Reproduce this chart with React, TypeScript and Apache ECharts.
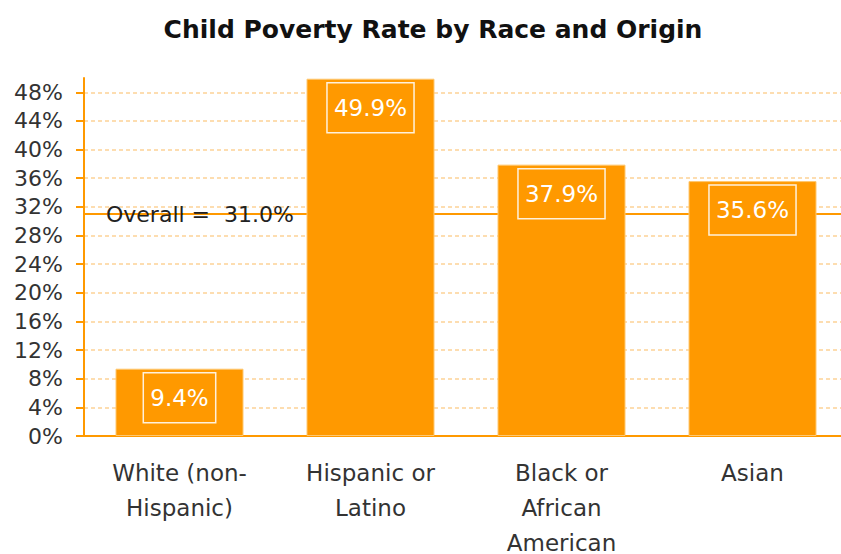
import React, { useEffect, useRef } from "react";
import * as echarts from "echarts";

const categories = ["White (non-\nHispanic)", "Hispanic or\nLatino", "Black or\nAfrican\nAmerican", "Asian"];
const rates = [9.4, 49.9, 37.9, 35.6];
const overallRate = 31.0;
const yTicks = { min: 0, max: 50, interval: 4 };
const titleText = "Child Poverty Rate by Race and Origin";

const ORANGE = "#FF9900";

export default function App() {
  const ref = useRef<HTMLDivElement>(null);
  useEffect(() => {
    if (!ref.current) return;
    const chart = echarts.init(ref.current, undefined, { renderer: "svg" });
    chart.setOption({
      animation: false,
      backgroundColor: "#ffffff",
      title: {
        text: titleText,
        left: 428,
        top: 12,
        textAlign: "center",
        textStyle: { fontFamily: "DejaVu Sans", fontWeight: "bold", fontSize: 25, color: "#111" },
      },
      grid: { left: 84, top: 78, width: 764, height: 358, containLabel: false, outerBoundsMode: "none" },
      xAxis: {
        type: "category",
        data: categories,
        axisLine: { show: true, lineStyle: { color: ORANGE, width: 2 } },
        axisTick: { show: false },
        axisLabel: {
          color: "#333",
          fontFamily: "DejaVu Sans",
          fontSize: 23,
          lineHeight: 35,
          margin: 19,
          interval: 0,
        },
      },
      yAxis: {
        type: "value",
        min: yTicks.min,
        max: yTicks.max,
        interval: yTicks.interval,
        axisLine: { show: true, lineStyle: { color: ORANGE, width: 2 } },
        axisTick: { show: true, length: 8, lineStyle: { color: ORANGE, width: 2 } },
        axisLabel: {
          formatter: "{value}%",
          color: "#333",
          fontFamily: "DejaVu Sans",
          fontSize: 22,
          margin: 21,
          showMaxLabel: false,
        },
        splitLine: { show: true, showMaxLine: false, lineStyle: { color: "#FDDDB0", width: 2, type: [4, 3] } },
      },
      series: [
        {
          type: "line",
          data: [],
          z: 1,
          markLine: {
            silent: true,
            z: 1,
            symbol: "none",
            lineStyle: { color: ORANGE, width: 2, type: "solid" },
            label: {
              show: true,
              position: "insideStart",
              distance: [22, 0],
              formatter: () => "Overall =  " + overallRate.toFixed(1) + "%",
              color: "#222",
              fontFamily: "DejaVu Sans",
              fontSize: 22,
            },
            data: [{ yAxis: overallRate }],
          },
        },
        {
          type: "bar",
          data: rates,
          barWidth: 128,
          z: 3,
          itemStyle: { color: ORANGE, borderColor: "#FFC870", borderWidth: 1 },
          label: {
            show: true,
            position: "insideTop",
            distance: 4,
            formatter: (p: any) => p.value.toFixed(1) + "%",
            color: "#fff",
            fontFamily: "DejaVu Sans",
            fontSize: 23,
            lineHeight: 20,
            padding: [15, 7],
            borderColor: "#FFF1DC",
            borderWidth: 1.5,
          },
        },
      ],
    });
    return () => chart.dispose();
  }, []);
  return <div ref={ref} style={{ position: "fixed", left: 0, top: 0, width: 841, height: 554 }} />;
}
